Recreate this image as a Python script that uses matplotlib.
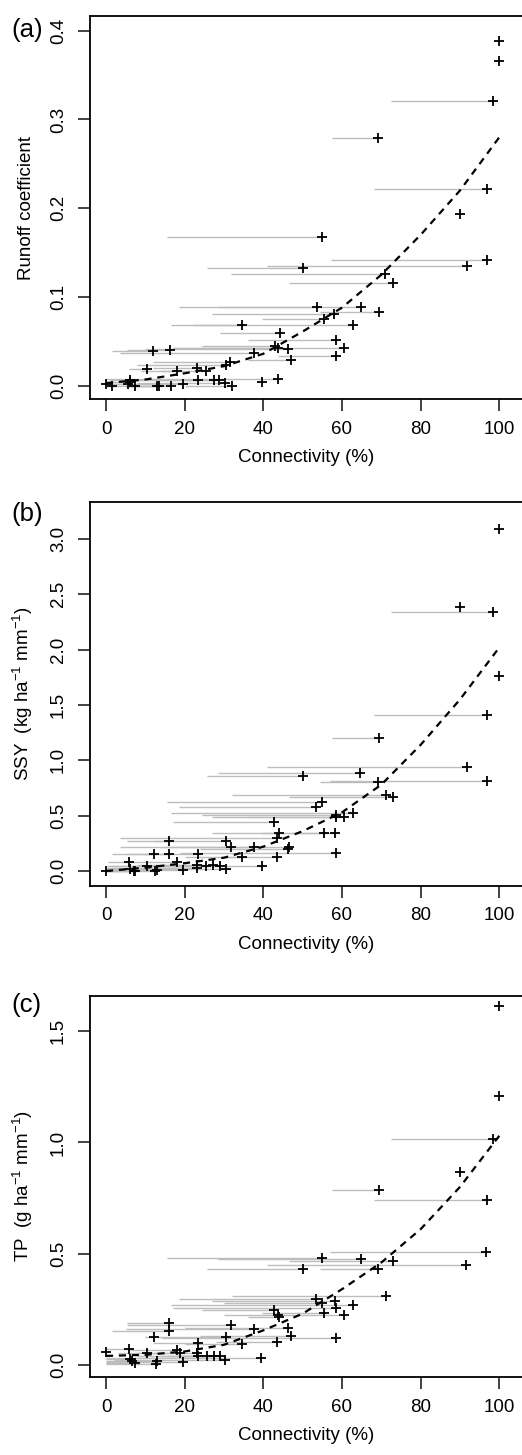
import numpy as np
import matplotlib.pyplot as plt

plt.rcParams['font.family'] = ['Liberation Sans', 'DejaVu Sans']
plt.rcParams['mathtext.default'] = 'regular'

# Connectivity range (%) and event values
# (a) runoff coefficient
a_conn = [99.9, 99.9, 98.3, 69.2, 96.8, 90.0, 54.9, 96.8, 91.7, 50.2,
          70.9, 73.0, 53.6, 64.8, 69.4, 58.0, 55.3, 34.7, 62.7, 44.2,
          58.6, 43.0, 43.8, 46.4, 60.5, 12.0, 16.3, 37.6, 58.5, 47.0,
          31.5, 30.5, 10.3, 18.0, 23.2, 25.4, 6.1, 23.5, 27.5, 28.8,
          30.3, 32.1, 39.6, 43.7, 0.0, 1.4, 5.7, 7.4, 12.9, 13.5,
          16.4, 19.6, 6.1]
a_low = [99.9, 99.9, 72.5, 57.5, 68.2, 90.0, 15.6, 57.1, 41.0, 25.6,
         31.8, 46.5, 18.6, 28.5, 54.4, 27.0, 39.6, 22.0, 16.4, 29.0,
         36.2, 24.3, 17.1, 10.0, 17.1, 1.4, 5.3, 3.6, 43.7, 36.0,
         12.0, 8.0, 5.9, 9.0, 12.0, 14.0, 1.0, 6.0, 14.0, 20.0,
         8.0, 20.0, 39.6, 0.0, 0.0, 0.0, 0.0, 0.0, 5.0, 5.0,
         6.0, 0.0, 0.0]
a_val = [0.388, 0.366, 0.321, 0.279, 0.222, 0.193, 0.168, 0.142, 0.135, 0.133,
         0.126, 0.116, 0.089, 0.089, 0.083, 0.081, 0.075, 0.068, 0.068, 0.059,
         0.052, 0.045, 0.043, 0.041, 0.043, 0.039, 0.040, 0.037, 0.033, 0.029,
         0.027, 0.023, 0.019, 0.017, 0.020, 0.017, 0.007, 0.007, 0.007, 0.007,
         0.003, 0.000, 0.004, 0.008, 0.002, 0.000, 0.002, 0.000, 0.000, 0.000,
         0.000, 0.002, 0.0045]

# (b) SSY
b_conn = [99.9, 90.0, 98.3, 100.0, 96.8, 69.4, 91.7, 64.6, 50.2, 96.8,
          69.2, 71.1, 73.0, 54.8, 53.5, 62.7, 58.6, 60.6, 58.5, 42.7,
          44.1, 43.4, 55.5, 58.2, 16.0, 30.4, 31.8, 37.6, 46.6, 46.4,
          12.3, 16.0, 23.5, 58.5, 34.7, 43.5, 18.1, 5.8, 39.6, 10.3,
          23.2, 23.2, 25.4, 27.3, 29.0, 30.4, 19.6, 13.0, 12.5, 6.1,
          7.0, 7.4, 0.0]
b_low = [99.9, 90.0, 72.5, 100.0, 68.2, 57.5, 41.0, 28.6, 25.6, 57.0,
         54.4, 32.0, 46.5, 15.6, 18.6, 16.4, 24.3, 36.0, 27.0, 17.1,
         27.0, 3.6, 39.6, 47.0, 5.4, 12.0, 3.6, 14.0, 30.0, 24.0,
         1.6, 5.0, 10.0, 18.8, 20.0, 30.0, 6.0, 0.5, 0.2, 1.0,
         8.0, 0.0, 10.0, 12.0, 15.0, 5.0, 0.0, 2.0, 0.0, 0.0,
         0.0, 0.0, 0.0]
b_val = [3.09, 2.39, 2.34, 1.76, 1.41, 1.20, 0.94, 0.89, 0.86, 0.81,
         0.80, 0.69, 0.67, 0.62, 0.575, 0.527, 0.51, 0.49, 0.49, 0.445,
         0.346, 0.30, 0.34, 0.346, 0.274, 0.27, 0.214, 0.214, 0.214, 0.196,
         0.154, 0.154, 0.154, 0.16, 0.124, 0.124, 0.079, 0.084, 0.045, 0.048,
         0.054, 0.024, 0.045, 0.054, 0.045, 0.018, 0.009, 0.009, 0.003, 0.018,
         0.003, 0.003, 0.0]

# (c) TP
c_conn = [99.9, 99.9, 98.5, 90.0, 69.4, 96.8, 96.6, 55.0, 64.8, 73.0,
          91.5, 50.2, 69.1, 71.2, 53.5, 58.2, 55.0, 62.7, 58.5, 42.7,
          43.8, 44.1, 55.5, 60.6, 16.1, 31.7, 16.1, 37.6, 46.4, 12.2,
          30.4, 47.0, 58.5, 34.7, 23.5, 43.5, 0.0, 5.9, 10.3, 18.0,
          18.8, 23.2, 25.6, 27.5, 29.0, 23.5, 39.4, 6.1, 6.6, 7.4,
          13.0, 12.7, 19.6, 30.3]
c_low = [99.9, 99.9, 72.5, 90.0, 57.5, 68.2, 57.0, 15.6, 28.6, 46.5,
         41.0, 25.6, 54.4, 32.0, 18.6, 27.0, 30.0, 16.4, 17.1, 24.3,
         30.0, 36.0, 39.6, 44.0, 5.3, 5.3, 1.4, 5.0, 20.0, 10.0,
         13.0, 24.0, 14.2, 20.0, 12.0, 28.0, 0.0, 0.0, 3.0, 6.0,
         8.0, 10.0, 14.0, 16.0, 18.0, 8.0, 0.0, 0.0, 0.0, 0.0,
         2.0, 0.0, 0.0, 2.0]
c_val = [1.614, 1.209, 1.014, 0.869, 0.786, 0.741, 0.506, 0.481, 0.478, 0.468,
         0.449, 0.430, 0.431, 0.309, 0.295, 0.287, 0.279, 0.269, 0.254, 0.246,
         0.224, 0.216, 0.232, 0.224, 0.190, 0.179, 0.153, 0.160, 0.164, 0.127,
         0.127, 0.130, 0.122, 0.092, 0.100, 0.101, 0.056, 0.070, 0.054, 0.067,
         0.054, 0.052, 0.041, 0.041, 0.041, 0.040, 0.029, 0.025, 0.018, 0.010,
         0.017, 0.004, 0.014, 0.022]

# fitted curves (dashed), read at every 10 %
fit_conn = [0, 10, 20, 30, 40, 50, 60, 70, 80, 90, 100]
a_fit = [0.003, 0.007, 0.014, 0.022, 0.036, 0.061, 0.088, 0.125, 0.170, 0.220, 0.280]
b_fit = [0.00, 0.03, 0.07, 0.12, 0.22, 0.36, 0.53, 0.78, 1.14, 1.55, 2.02]
c_fit = [0.040, 0.045, 0.060, 0.090, 0.155, 0.230, 0.340, 0.460, 0.610, 0.800, 1.030]

x_ticks = [0, 20, 40, 60, 80, 100]
a_yticks = [0.0, 0.1, 0.2, 0.3, 0.4]
b_yticks = [0.0, 0.5, 1.0, 1.5, 2.0, 2.5, 3.0]
c_yticks = [0.0, 0.5, 1.0, 1.5]


def draw_panel(ax, conn, low, val, fit_y, ylim, yticks, ylabel):
    # connectivity ranges as grey lines, events as crosses
    ax.hlines(val, low, conn, color='#bdbdbd', lw=1.0, zorder=1)
    ax.plot(fit_conn, fit_y, color='black', lw=1.6, dashes=(3.2, 2.6), zorder=2)
    ax.plot(conn, val, '+', color='black', ms=7, mew=1.3, zorder=3)

    ax.set_xlim(-4.07, 105.77)
    ax.set_ylim(*ylim)
    ax.set_xticks(x_ticks)
    ax.set_yticks(yticks)
    ax.set_yticklabels([f'{t:.1f}' for t in yticks], rotation=90, va='center')

    ax.spines['right'].set_visible(False)
    for s in ['left', 'top', 'bottom']:
        ax.spines[s].set_linewidth(1.3)
    ax.tick_params(length=8.6, width=1.2, labelsize=13.5, color='#222222')
    ax.tick_params(axis='x', pad=7)
    ax.tick_params(axis='y', pad=8)

    ax.set_xlabel('Connectivity (%)', fontsize=13.5, va='top')
    ax.xaxis.set_label_coords(0.5, -0.13)
    ax.set_ylabel(ylabel, fontsize=13.5)
    ax.yaxis.set_label_coords(-0.127, 0.5)


W, H = 522.0, 1455.0
fig = plt.figure(figsize=(W / 100, H / 100), dpi=100)

left = 90 / W
width = 1 - left
# (top, bottom) of each plot box in pixels
boxes = [(16.0, 399.3), (502.3, 885.7), (995.7, 1377.3)]
axes = [fig.add_axes([left, 1 - b / H, width, (b - t) / H]) for t, b in boxes]

draw_panel(axes[0], a_conn, a_low, a_val, a_fit, (-0.0153, 0.4166),
           a_yticks, 'Runoff coefficient')
draw_panel(axes[1], b_conn, b_low, b_val, b_fit, (-0.133, 3.332),
           b_yticks, 'SSY  (kg ha$^{-1}$ mm$^{-1}$)')
draw_panel(axes[2], c_conn, c_low, c_val, c_fit, (-0.0562, 1.660),
           c_yticks, 'TP  (g ha$^{-1}$ mm$^{-1}$)')

# panel letters
for lab, y in [('(a)', 30), ('(b)', 513.5), ('(c)', 1005)]:
    fig.text(11 / W, 1 - y / H, lab, fontsize=18.5, ha='left', va='center')

fig.savefig('out.png', dpi=100)
